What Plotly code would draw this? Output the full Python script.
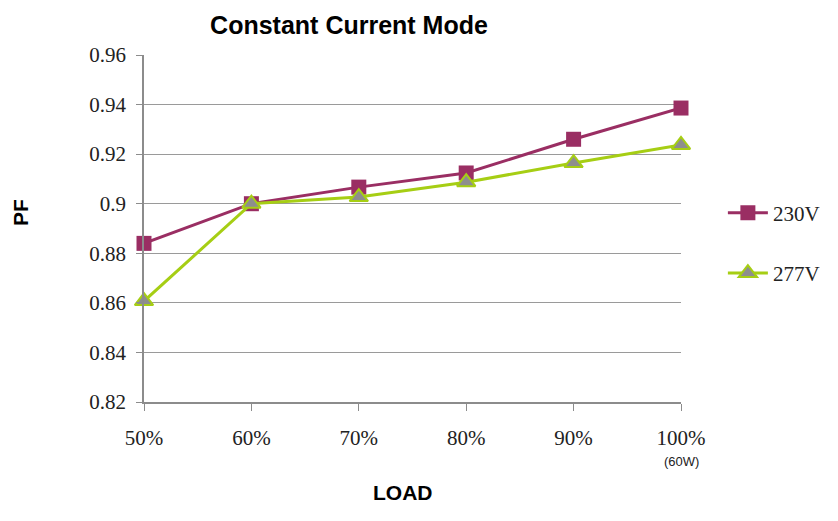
import plotly.graph_objects as go

loads = [50, 60, 70, 80, 90, 100]
tick_labels = ["50%", "60%", "70%", "80%", "90%", "100%"]
last_note = "(60W)"
pf_230 = [0.884, 0.900, 0.9067, 0.9124, 0.926, 0.9386]
pf_277 = [0.8607, 0.900, 0.9027, 0.9087, 0.9164, 0.9237]
y_ticks = [0.82, 0.84, 0.86, 0.88, 0.9, 0.92, 0.94, 0.96]
y_labels = ["0.82", "0.84", "0.86", "0.88", "0.9", "0.92", "0.94", "0.96"]

serif = "Times New Roman, Liberation Serif, serif"
sans = "Liberation Sans"

fig = go.Figure()
fig.add_trace(go.Scatter(
    x=loads, y=pf_230, name="230V", mode="lines+markers",
    line=dict(color="#9A2E63", width=3),
    marker=dict(symbol="square", size=15, color="#9A2E63"),
    cliponaxis=False, legendgroup="a"))
fig.add_trace(go.Scatter(
    x=loads, y=pf_277, name="277V", mode="lines+markers",
    line=dict(color="#A6CE14", width=3),
    marker=dict(symbol="triangle-up", size=16, color="#8E8E8E",
                line=dict(color="#A6CE14", width=2)),
    cliponaxis=False, legendgroup="b"))

fig.update_layout(
    width=838, height=521,
    font=dict(family=serif, size=21, color="#222"),
    margin=dict(l=136, r=165, t=47, b=127, autoexpand=False),
    paper_bgcolor="white", plot_bgcolor="white",
    title=dict(text="<b>Constant Current Mode</b>", x=341/838, xanchor="center",
               y=1-17/521, yanchor="middle",
               font=dict(family=sans, size=25, color="black")),
    xaxis=dict(range=[50, 100], tickvals=loads, ticktext=tick_labels,
               showgrid=False, showline=True, linecolor="#8C8C8C", linewidth=1.5,
               ticks="outside", ticklen=7, tickcolor="#8C8C8C",
               tickfont=dict(family=serif, size=21, color="#222"),
               ticklabelstandoff=9,
               zeroline=False, fixedrange=True, automargin=False),
    yaxis=dict(range=[0.82, 0.96], tickvals=y_ticks, ticktext=y_labels,
               showgrid=True, gridcolor="#9A9A9A", gridwidth=1,
               showline=True, linecolor="#8C8C8C", linewidth=1.5,
               ticks="outside", ticklen=6, tickcolor="#8C8C8C",
               tickfont=dict(family=serif, size=21, color="#222"),
               ticklabelstandoff=6,
               zeroline=False, fixedrange=True, automargin=False),
    legend=dict(x=1.078, xanchor="left", y=0.458, yanchor="middle",
                font=dict(family=serif, size=21, color="#222"),
                tracegroupgap=30, traceorder="grouped", itemwidth=40),
    annotations=[
        dict(text=last_note, xref="x", yref="paper",
             x=loads[-1], y=-(461-402)/347, xanchor="center", yanchor="middle",
             showarrow=False, font=dict(family=sans, size=13, color="#222")),
        dict(text="<b>LOAD</b>", xref="paper", yref="paper",
             x=(403-144)/537, y=-(492-402)/347, xanchor="center", yanchor="middle",
             showarrow=False, font=dict(family=sans, size=21, color="black")),
        dict(text="<b>PF</b>", xref="paper", yref="paper",
             x=-(144-20)/537, y=(402-213)/347, xanchor="center", yanchor="middle",
             textangle=-90, showarrow=False,
             font=dict(family=sans, size=21, color="black")),
    ],
)
fig.write_html("out.html")
